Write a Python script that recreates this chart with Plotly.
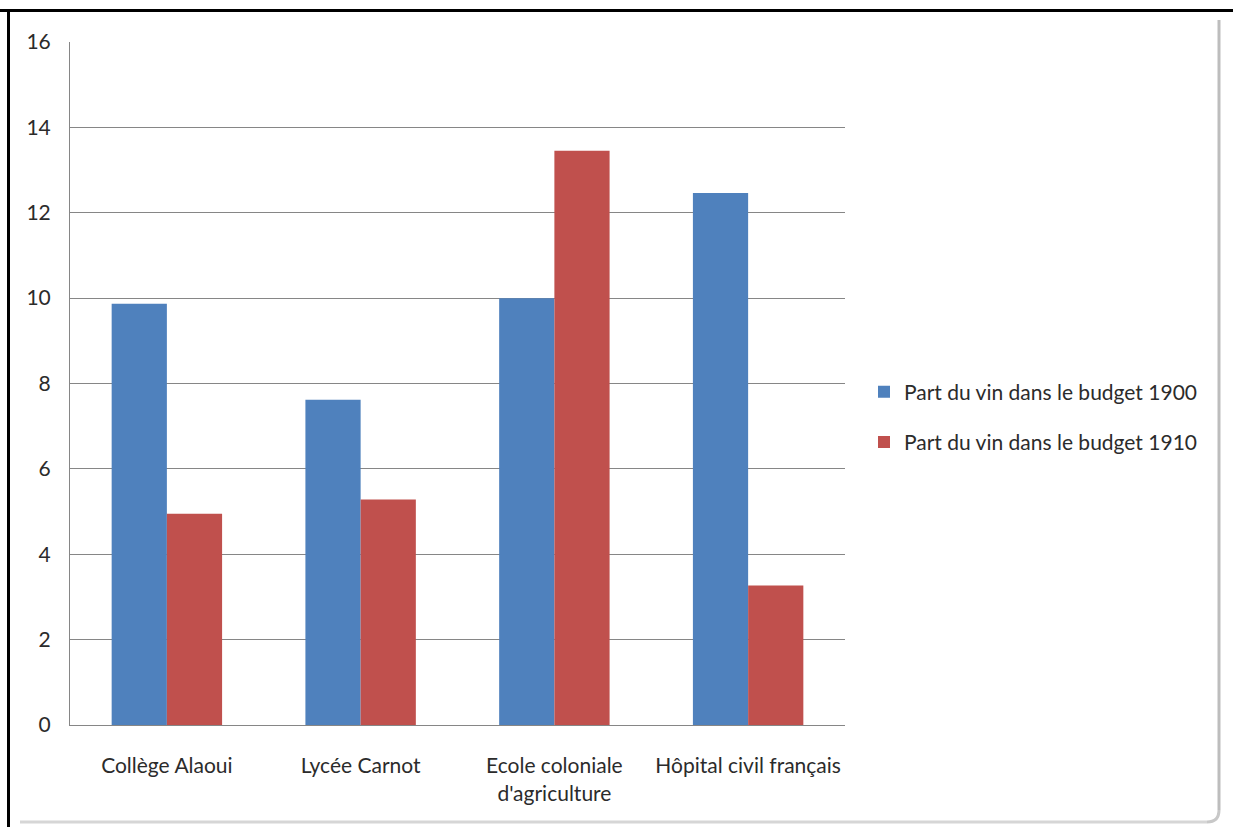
import plotly.graph_objects as go

categories = ["Collège Alaoui", "Lycée Carnot", "Ecole coloniale<br>d'agriculture", "Hôpital civil français"]
series_1900 = [9.87, 7.62, 10.0, 12.46]
series_1910 = [4.95, 5.28, 13.45, 3.27]
series_names = ["Part du vin dans le budget 1900", "Part du vin dans le budget 1910"]
y_ticks = [0, 2, 4, 6, 8, 10, 12, 14, 16]

W, H = 1233, 827
L, R, T, B = 70, 845, 42, 725

def px(x):
    return (x - L) / (R - L)

def py(y):
    return (B - y) / (B - T)

fig = go.Figure()
fig.add_trace(go.Bar(x=categories, y=series_1900, name=series_names[0], legendgroup="a",
                     marker=dict(color="#4f81bd", line=dict(width=0))))
fig.add_trace(go.Bar(x=categories, y=series_1910, name=series_names[1], legendgroup="b",
                     marker=dict(color="#c0504d", line=dict(width=0))))

font = "Lato, 'Open Sans', sans-serif"
fig.update_layout(
    width=W, height=H,
    margin=dict(l=L, r=W - R, t=T, b=H - B, autoexpand=False),
    paper_bgcolor="white", plot_bgcolor="white",
    barmode="group", bargap=0.43, bargroupgap=0,
    font=dict(family=font, size=21, color="#2b2b2b"),
    legend=dict(x=px(864), y=py(417), xanchor="left", yanchor="middle",
                font=dict(size=21), traceorder="grouped", tracegroupgap=20, itemwidth=30,
                bgcolor="rgba(0,0,0,0)"),
    xaxis=dict(showgrid=False, showline=True, linecolor="#868686", linewidth=1,
               ticks="", tickfont=dict(size=21), ticklabelstandoff=22),
    yaxis=dict(range=[0, 16], tickvals=y_ticks, showgrid=True, gridcolor="#868686",
               gridwidth=1, showline=True, linecolor="#868686", linewidth=1,
               zeroline=False, ticks="", tickfont=dict(size=21), ticklabelstandoff=14),
)

shapes = [
    dict(type="line", xref="paper", yref="paper", x0=px(0), x1=px(W), y0=py(10.5), y1=py(10.5),
         line=dict(color="black", width=3)),
    dict(type="line", xref="paper", yref="paper", x0=px(8.5), x1=px(8.5), y0=py(9), y1=py(H),
         line=dict(color="black", width=3)),
    dict(type="line", xref="paper", yref="paper", x0=px(1219), x1=px(1219), y0=py(20), y1=py(810),
         line=dict(color="#bdbdbd", width=3)),
    dict(type="line", xref="paper", yref="paper", x0=px(20), x1=px(1207), y0=py(822), y1=py(822),
         line=dict(color="#d6d6d6", width=3)),
    dict(type="path", xref="paper", yref="paper",
         path=f"M {px(1207)},{py(822)} Q {px(1219)},{py(822)} {px(1219)},{py(810)}",
         line=dict(color="#c8c8c8", width=3)),
]
fig.update_layout(shapes=shapes)

fig.write_html("out.html", config={"displayModeBar": False},
               post_script="document.body.style.margin='0';document.body.style.overflow='hidden';")
